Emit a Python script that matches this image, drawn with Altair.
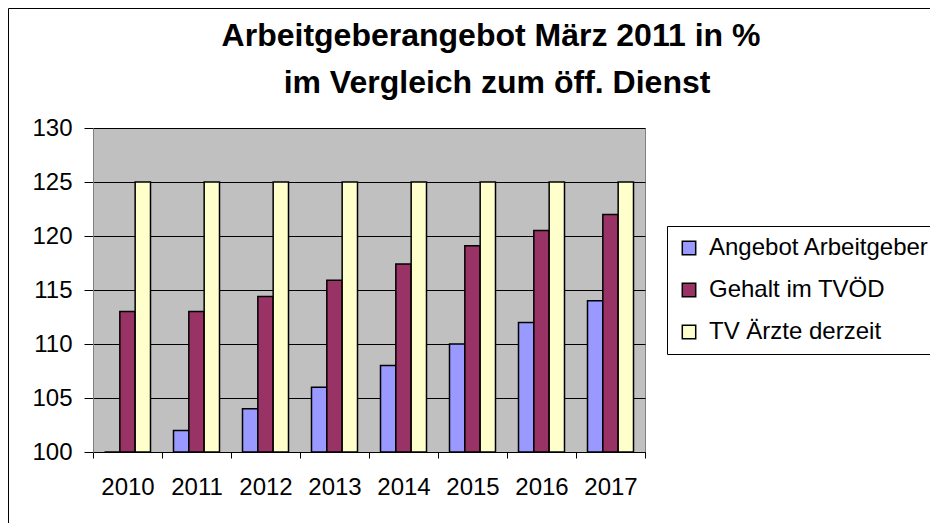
import altair as alt
import pandas as pd

years = ["2010", "2011", "2012", "2013", "2014", "2015", "2016", "2017"]
series = ["Angebot Arbeitgeber", "Gehalt im TVÖD", "TV Ärzte derzeit"]
angebot = [100, 102, 104, 106, 108, 110, 112, 114]
gehalt = [113, 113, 114.4, 115.9, 117.4, 119.1, 120.5, 122.0]
tv_aerzte = [125, 125, 125, 125, 125, 125, 125, 125]
colors = ["#9999FF", "#993366", "#FFFFCC"]
y_ticks = [100, 105, 110, 115, 120, 125, 130]
title_lines = ["Arbeitgeberangebot März 2011 in %", "im Vergleich zum öff. Dienst"]

rows = []
for name, vals in zip(series, [angebot, gehalt, tv_aerzte]):
    for yr, v in zip(years, vals):
        rows.append({"Jahr": yr, "Reihe": name, "Wert": v})
df = pd.DataFrame(rows)

FONT = "Liberation Sans"

bars = alt.Chart(df).mark_bar(stroke="black", strokeWidth=1.5).encode(
    x=alt.X("Jahr:N", sort=years,
            scale=alt.Scale(paddingInner=0, paddingOuter=0),
            axis=alt.Axis(title=None, labelAngle=0, tickBand="extent", tickSize=6,
                          labelPadding=17, grid=False, domainColor="black",
                          tickColor="black")),
    xOffset=alt.XOffset("Reihe:N", sort=series,
                        scale=alt.Scale(paddingInner=0, paddingOuter=0.75)),
    y=alt.Y("Wert:Q", scale=alt.Scale(domain=[100, 130], zero=False, nice=False),
            axis=alt.Axis(title=None, values=y_ticks, tickSize=9, labelPadding=12,
                          grid=True, gridColor="black", gridWidth=1,
                          domainColor="#808080", tickColor="black")),
    y2=alt.datum(100),
    color=alt.Color("Reihe:N", sort=series,
                    scale=alt.Scale(domain=series, range=colors),
                    legend=alt.Legend(title=None, orient="none", legendX=574, legendY=98,
                                      symbolType="square", symbolSize=180,
                                      symbolStrokeColor="black", symbolStrokeWidth=1.5,
                                      strokeColor="black", fillColor="white",
                                      padding=10, rowPadding=18, labelOffset=8,
                                      labelFontSize=24, labelFont=FONT, labelLimit=400,
                                      labelColor="black")),
)

title1 = alt.Chart(alt.Data(values=[{"t": title_lines[0]}])).mark_text(
    font=FONT, fontSize=32, fontWeight="bold", color="black",
    align="center", baseline="alphabetic"
).encode(text="t:N", x=alt.value(398), y=alt.value(-82))

title2 = alt.Chart(alt.Data(values=[{"t": title_lines[1]}])).mark_text(
    font=FONT, fontSize=32, fontWeight="bold", color="black",
    align="center", baseline="alphabetic"
).encode(text="t:N", x=alt.value(404), y=alt.value(-35))

frame_left = alt.Chart(alt.Data(values=[{"a": 1}])).mark_rule(
    color="black", strokeWidth=1
).encode(x=alt.value(-84.5), y=alt.value(-119.5), y2=alt.value(1000))

frame_top = alt.Chart(alt.Data(values=[{"a": 1}])).mark_rule(
    color="black", strokeWidth=1
).encode(x=alt.value(-84.5), x2=alt.value(1500), y=alt.value(-119.5))

chart = alt.layer(bars, title1, title2, frame_left, frame_top).properties(
    width=552,
    height=324,
    autosize=alt.AutoSizeParams(type="none"),
    padding={"left": 85, "top": 120, "right": 285, "bottom": 71},
    background="white",
).configure_view(
    fill="#C0C0C0", stroke="#808080"
).configure_axis(
    labelFont=FONT, labelFontSize=24, labelColor="black"
)

chart.save("out.html", embed_options={"renderer": "svg", "actions": False})
